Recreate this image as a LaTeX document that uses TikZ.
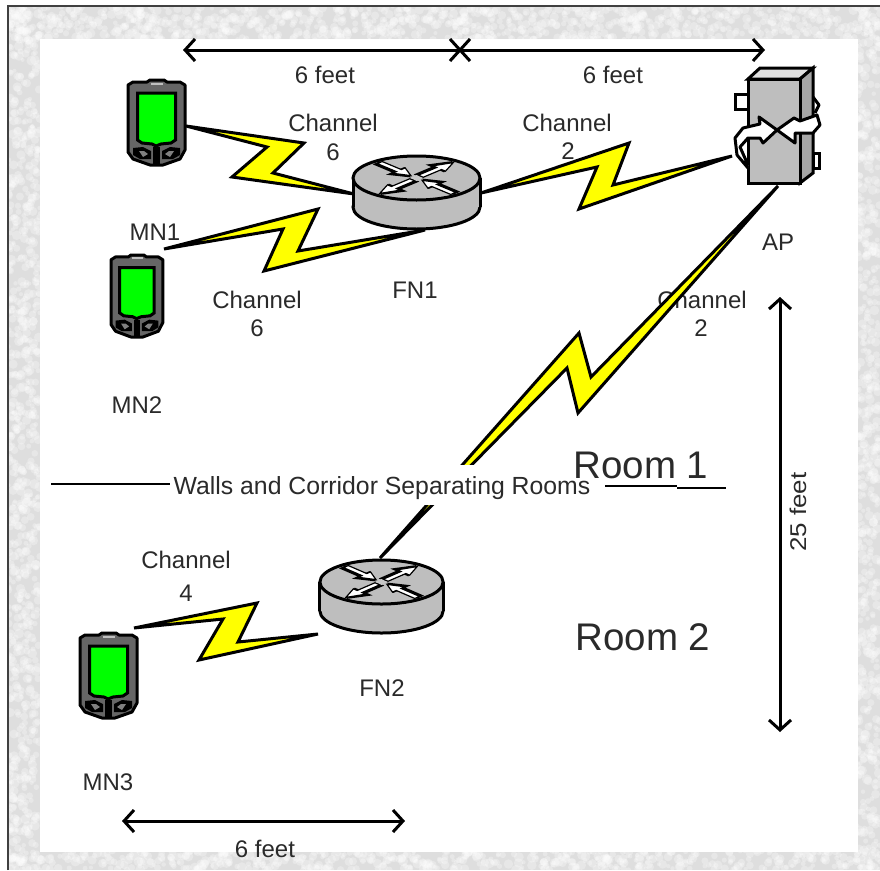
\documentclass[tikz,border=0pt]{standalone}
\usepackage{fontspec}
\setmainfont{Liberation Sans}
\usetikzlibrary{arrows.meta}
\definecolor{txt}{HTML}{2A2A2A}
\definecolor{bolt}{HTML}{FFFF00}
\definecolor{scr}{HTML}{00FF00}
\definecolor{dev}{HTML}{BEBEBE}
\tikzset{
  x=1pt,y=-1pt,
  lbl/.style={text=txt,inner sep=0pt,anchor=base,font=\fontsize{24}{26}\selectfont},
  bigl/.style={text=txt,inner sep=0pt,anchor=base,font=\fontsize{38.5}{40}\selectfont},
  zap/.style={draw=black,fill=bolt,line width=3pt,miter limit=5,line join=miter},
  dim/.style={draw=black,line width=3pt,{Straight Barb[length=10pt,width=22pt,line width=3pt]}-{Straight Barb[length=10pt,width=22pt,line width=3pt]}},
  wall/.style={draw=black,line width=2.6pt},
  pdabody/.style={draw=black,fill=black!60,line width=3pt,line join=round},
  swirl/.style={draw=black,fill=white,line width=3pt,line join=round},
  apface/.style={draw=black,line width=3pt,line join=miter},
}
\newcommand{\pdaicon}[4]{%
\begin{scope}[shift={(#1,#2)},xscale=#3,yscale=#4]
  \draw[pdabody] (0,5)--(5,2)--(19,2)--(22,0)--(36,0)--(39,2)--(52,2)--(57,5)--(57,70)--(52,79)--(35,85)--(22,85)--(5,79)--(0,72)--cycle;
  \fill[black!25] (23,2.5) rectangle (35,4.5);
  \draw[fill=scr,line width=3pt] (9.5,13)--(47.5,13)--(47.5,60)--(43,63)--(33,64)--(28,66)--(24,64)--(14,63)--(9.5,60)--cycle;
  \fill[black] (25,67) rectangle (32,84);
  \fill[black] (5,68)--(15,67)--(23,71)--(23,79)--(12,79)--(5,75)--cycle;
  \fill[black] (52,68)--(42,67)--(34,71)--(34,79)--(45,79)--(52,75)--cycle;
  \fill[black!50] (11,71)--(16,71)--(20,74)--(15,77)--cycle;
  \fill[black!50] (46,71)--(41,71)--(37,74)--(42,77)--cycle;
\end{scope}}
\newcommand{\rarrow}[2]{%
\begin{scope}[rotate=#1]
  \ifnum#2=1
    \fill[black,shift={(0,-3)}] (4,-5)--(29,-5)--(29,-13)--(54,0)--(29,13)--(29,5)--(4,5)--cycle;
    \draw[fill=white,line width=1.2pt] (6,-3.5)--(32,-3.5)--(32,-9)--(52,0)--(32,9)--(32,3.5)--(6,3.5)--cycle;
  \else
    \fill[black,shift={(0,-3)}] (5,0)--(27,-13)--(27,-5)--(54,-5)--(54,5)--(27,5)--(27,13)--cycle;
    \draw[fill=white,line width=1.2pt] (8,0)--(25,-9)--(25,-3.5)--(52,-3.5)--(52,3.5)--(25,3.5)--(25,9)--cycle;
  \fi
\end{scope}}
\newcommand{\routericon}[3]{%
\begin{scope}[shift={(#1,#2)},xscale=#3]
  \draw[fill=dev,line width=3pt] (0,29) ellipse[x radius=63.5pt,y radius=22pt];
  \fill[dev] (-63.5,0) rectangle (63.5,29);
  \draw[line width=3pt] (-63.5,0)--(-63.5,29) (63.5,0)--(63.5,29);
  \draw[fill=dev,line width=3pt] (0,0) ellipse[x radius=63.5pt,y radius=22pt];
  \begin{scope}[yscale=.42]
    \rarrow{45}{1}
    \rarrow{225}{1}
    \rarrow{135}{0}
    \rarrow{315}{0}
  \end{scope}
  \fill[black!22] (-6,0)--(0,-3)--(6,0)--(0,3)--cycle;
\end{scope}}
\begin{document}
\begin{tikzpicture}
\useasboundingbox (0,0) rectangle (880,870);
% textured frame
\fill[black!13] (8,6) rectangle (880,870);
\pgfmathsetseed{7}
\begin{scope}
  \clip (8,6) rectangle (880,870);
  \foreach \i in {1,...,1000}{
    \pgfmathsetmacro{\px}{8+872*rnd}\pgfmathsetmacro{\py}{6+34*rnd}
    \pgfmathsetmacro{\rr}{2+3*rnd}
    \fill[white,opacity=.28] (\px,\py) circle[radius=\rr pt];}
  \foreach \i in {1,...,600}{
    \pgfmathsetmacro{\px}{8+872*rnd}\pgfmathsetmacro{\py}{850+20*rnd}
    \pgfmathsetmacro{\rr}{2+3*rnd}
    \fill[white,opacity=.28] (\px,\py) circle[radius=\rr pt];}
  \foreach \i in {1,...,800}{
    \pgfmathsetmacro{\px}{8+32*rnd}\pgfmathsetmacro{\py}{6+864*rnd}
    \pgfmathsetmacro{\rr}{2+3*rnd}
    \fill[white,opacity=.28] (\px,\py) circle[radius=\rr pt];}
  \foreach \i in {1,...,600}{
    \pgfmathsetmacro{\px}{856+24*rnd}\pgfmathsetmacro{\py}{6+864*rnd}
    \pgfmathsetmacro{\rr}{2+3*rnd}
    \fill[white,opacity=.28] (\px,\py) circle[radius=\rr pt];}
\end{scope}
\draw[black!75,line width=2pt] (8,870)--(8,6)--(880,6);
\fill[white] (40,39) rectangle (858,852);

% labels beneath the bolts
\node[lbl] (d1) at (325,83) {6 feet};
\node[lbl] (d2) at (613,83) {6 feet};
\node[lbl] (c1a) at (333,131) {Channel};
\node[lbl] (c1b) at (333,160) {6};
\node[lbl] (c2a) at (567,131) {Channel};
\node[lbl] (c2b) at (568,159) {2};
\node[lbl] (mn1) at (155,240) {MN1};
\node[lbl] (c3a) at (257,308) {Channel};
\node[lbl] (c3b) at (257,336) {6};
\node[lbl] (fn1) at (415,298) {FN1};
\node[lbl] (ap) at (778,250) {AP};
\node[lbl] (c4a) at (702,308) {Channel};
\node[lbl] (c4b) at (701,336) {2};
\node[lbl] (mn2) at (137,413) {MN2};
\node[lbl] (c5a) at (186,568) {Channel};
\node[lbl] (c5b) at (186,601) {4};
\node[lbl] (fn2) at (382,696) {FN2};
\node[lbl] (mn3) at (108,790) {MN3};
\node[lbl] (d3) at (265,857) {6 feet};
\node[text=txt,inner sep=0pt,font=\fontsize{24}{26}\selectfont,rotate=90] (d4) at (798,512) {\scalebox{1.08}[.95]{25 feet}};
\node[bigl] (r2) at (643,650) {Room 2};

% dimension arrows
\coordinate (t1) at (183,50); \coordinate (t2) at (462,50);
\coordinate (t3) at (458,50); \coordinate (t4) at (765,50);
\coordinate (v1) at (780,297); \coordinate (v2) at (780,732);
\coordinate (b1) at (122,821); \coordinate (b2) at (405,821);
\draw[dim] (t1)--(t2);
\draw[dim] (t3)--(t4);
\draw[dim] (v1)--(v2);
\draw[dim] (b1)--(b2);

% devices
\pdaicon{128}{80}{1}{1}
\pdaicon{111}{255}{.91}{.965}
\pdaicon{80}{633}{1}{1}
\routericon{416.5}{178}{1}
\routericon{381.5}{582}{.97}

% access point
\draw[apface,fill=black!12] (748,79)--(760,68)--(813,68)--(800,79)--cycle;
\draw[apface,fill=black!35] (800,79)--(813,68)--(813,173)--(800,183)--cycle;
\draw[apface,fill=white] (735,94) rectangle (748,109);
\draw[apface,fill=white] (813,153) rectangle (819,168);
\draw[apface,fill=dev] (748,79) rectangle (800,183);
\draw[line width=3pt,line join=round] (813,97)--(819,105)--(815,113);
\draw[swirl] (748,168)--(737,155)--(735,138)--(743,128)--(760,124)--(759,117)--(777,130)--(763,143)--(760,138)--(748,138)--(740,147)--(748,165);
\draw[swirl] (777,130)--(794,118)--(800,121)--(817,115)--(820,125)--(813,133)--(795,133)--(795,143)--cycle;

% connector ends
\coordinate (mn1a) at (186,126); \coordinate (fn1a) at (354,194);
\coordinate (mn2a) at (164,249); \coordinate (fn1b) at (425,230);
\coordinate (fn1c) at (481,193); \coordinate (apa) at (732,156);
\coordinate (apb) at (778,186);  \coordinate (fn2a) at (380,558);
\coordinate (mn3a) at (134,628); \coordinate (fn2b) at (318,634);

% bolts
\draw[zap] (mn1a)--(304,143)--(273,173)--(fn1a)--(232,177)--(267,147)--cycle;
\draw[zap] (mn2a)--(318,209)--(298,251)--(fn1b)--(264,271)--(283,229)--cycle;
\draw[zap] (fn1c)--(629,143)--(613,185)--(apa)--(579,209)--(597,167)--cycle;
\draw[zap] (apb)--(591,377)--(579,333)--(fn2a)--(567,368)--(578,413)--cycle;
\draw[zap] (mn3a)--(257,603)--(238,642)--(fn2b)--(199,660)--(223,619)--cycle;

% wall band and its text
\fill[white] (170,465) rectangle (598,505);
\node[lbl,font=\fontsize{24.8}{26}\selectfont] (walls) at (382,494) {Walls and Corridor Separating Rooms};
\node[bigl] (r1) at (641,478) {Room 1};
\coordinate (w1) at (51,484); \coordinate (w2) at (170,484);
\coordinate (w3) at (605,486); \coordinate (w4) at (677,486);
\coordinate (w5) at (677,488); \coordinate (w6) at (726,488);
\draw[wall] (w1)--(w2);
\draw[wall] (w3)--(w4);
\draw[wall] (w5)--(w6);
\end{tikzpicture}
\end{document}
